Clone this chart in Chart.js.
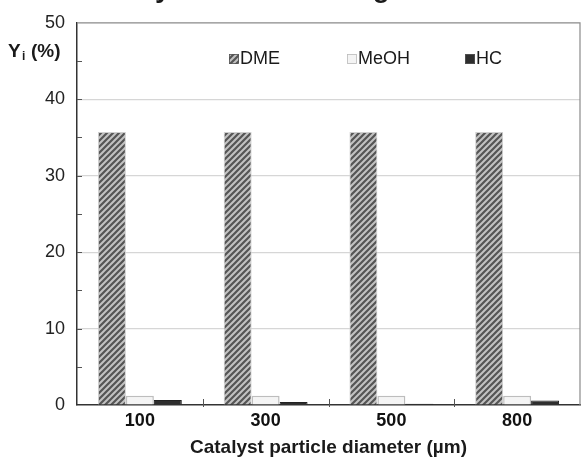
<!DOCTYPE html>
<html>
<head>
<meta charset="utf-8">
<script src="https://cdn.jsdelivr.net/npm/chart.js@4.4.1/dist/chart.umd.min.js"></script>
<style>
html, body { margin: 0; padding: 0; background: #fff; }
</style>
</head>
<body>
<canvas id="c" width="584" height="465"></canvas>
<script>
// values
const diameters = ['100', '300', '500', '800'];
const dmeYield = [35.7, 35.7, 35.7, 35.7];
const meohYield = [1.2, 1.2, 1.2, 1.2];
const hcYield = [0.65, 0.4, 0.15, 0.6];
const seriesNames = ['DME', 'MeOH', 'HC'];
const yMax = 50;

const FONT = '"Liberation Sans", Arial, sans-serif';
const canvas = document.getElementById('c');
const ctx = canvas.getContext('2d');

// diagonal hatch for the DME bars
function makeHatch() {
    const p = document.createElement('canvas');
    p.width = 6; p.height = 6;
    const g = p.getContext('2d');
    g.fillStyle = '#c2c2c2';
    g.fillRect(0, 0, 6, 6);
    g.strokeStyle = '#555';
    g.lineWidth = 2.2;
    g.beginPath();
    g.moveTo(-1, 7); g.lineTo(7, -1);
    g.moveTo(-1, 1); g.lineTo(1, -1);
    g.moveTo(5, 7); g.lineTo(7, 5);
    g.stroke();
    return ctx.createPattern(p, 'repeat');
}
const hatch = makeHatch();
const meohFill = '#f4f4f4';
const hcFill = '#2e2e2e';

const extras = {
    id: 'extras',
    afterDraw(chart) {
        const c = chart.ctx;
        const a = chart.chartArea;
        const y = chart.scales.y;
        const x = chart.scales.x;
        c.save();

        // top and right frame
        c.strokeStyle = '#8a8a8a';
        c.lineWidth = 1.2;
        c.beginPath();
        c.moveTo(a.left, a.top); c.lineTo(a.right, a.top); c.lineTo(a.right, a.bottom);
        c.stroke();

        // inward ticks on the y axis every 5
        c.strokeStyle = '#555';
        c.lineWidth = 1;
        for (let v = 5; v < yMax; v += 5) {
            const py = Math.round(y.getPixelForValue(v)) + 0.5;
            c.beginPath(); c.moveTo(a.left, py); c.lineTo(a.left + 5, py); c.stroke();
        }

        // category boundary ticks on the x axis
        const step = (a.right - a.left) / diameters.length;
        for (let i = 1; i < diameters.length; i++) {
            const px = Math.round(x.getPixelForValue(i) - step / 2) + 0.5;
            c.beginPath(); c.moveTo(px, a.bottom - 6); c.lineTo(px, a.bottom + 2); c.stroke();
        }

        // axis titles
        c.fillStyle = '#1a1a1a';
        c.textBaseline = 'middle';
        c.textAlign = 'left';
        c.font = 'bold 19px ' + FONT;
        c.fillText('Y', 8, 52);
        c.font = 'bold 12px ' + FONT;
        c.fillText('i', 22, 57);
        c.font = 'bold 19px ' + FONT;
        c.fillText('(%)', 31, 52);

        c.textAlign = 'center';
        c.font = 'bold 19px ' + FONT;
        c.fillText('Catalyst particle diameter (\u00b5m)', (a.left + a.right) / 2, 448);

        // clipped heading above the figure
        c.textAlign = 'left';
        c.textBaseline = 'alphabetic';
        c.font = 'bold 28px ' + FONT;
        c.fillText('Product yield for all sizing', 155 - c.measureText('Product ').width, -3);

        // legend inside the plot
        const fills = [hatch, meohFill, hcFill];
        c.font = '18px ' + FONT;
        c.textBaseline = 'middle';
        const ly = 59;
        seriesNames.forEach((name, i) => {
            const lx = 229 + i * 118;
            c.fillStyle = fills[i];
            c.fillRect(lx, ly - 5, 10, 10);
            c.strokeStyle = i === 1 ? '#bbb' : '#555';
            c.lineWidth = 0.8;
            c.strokeRect(lx + 0.5, ly - 4.5, 9, 9);
            c.fillStyle = '#1a1a1a';
            c.fillText(name, lx + 11, ly);
        });
        c.restore();
    }
};

new Chart(ctx, {
    type: 'bar',
    data: {
        labels: diameters,
        datasets: [
            { label: seriesNames[0], data: dmeYield, backgroundColor: hatch, borderColor: '#cfcfcf', borderWidth: 1 },
            { label: seriesNames[1], data: meohYield, backgroundColor: meohFill, borderColor: '#bdbdbd', borderWidth: 1.5 },
            { label: seriesNames[2], data: hcYield, backgroundColor: hcFill, borderColor: '#222', borderWidth: 1 }
        ]
    },
    options: {
        responsive: false,
        animation: false,
        layout: { padding: { left: 0, top: 17, right: 4, bottom: 0 } },
        datasets: { bar: { categoryPercentage: 0.667, barPercentage: 1.0 } },
        scales: {
            x: {
                grid: { display: false, drawTicks: false },
                border: { color: '#333', width: 1.5 },
                ticks: { color: '#111', padding: 5, font: { family: FONT, size: 18, weight: 'bold' } },
                afterFit(s) { s.height = 60; }
            },
            y: {
                min: 0,
                max: yMax,
                grid: {
                    drawTicks: false,
                    color: (t) => (t.tick && t.tick.value % 10 === 0 && t.tick.value > 0 && t.tick.value < yMax) ? '#d6d6d6' : 'transparent',
                    lineWidth: 1.2
                },
                border: { color: '#333', width: 1.5 },
                ticks: {
                    stepSize: 5,
                    padding: 12,
                    color: '#222',
                    font: { family: FONT, size: 18 },
                    callback: (v) => v % 10 === 0 ? v : ''
                },
                afterFit(s) { s.width = 77; }
            }
        },
        plugins: {
            legend: { display: false },
            tooltip: { enabled: false }
        }
    },
    plugins: [extras]
});
</script>
</body>
</html>
